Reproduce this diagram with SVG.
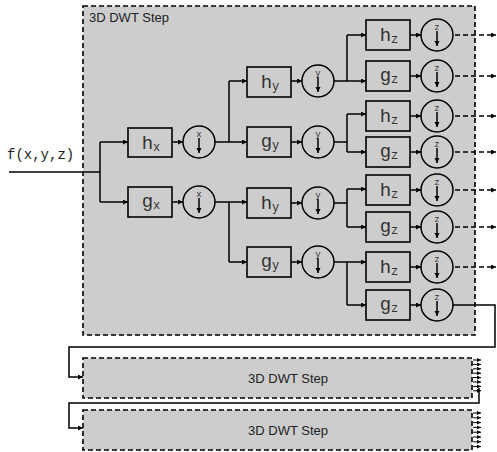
<svg xmlns="http://www.w3.org/2000/svg" width="497" height="452" viewBox="0 0 497 452">
<defs>
<marker id="ah" markerUnits="userSpaceOnUse" markerWidth="6" markerHeight="6" refX="5" refY="2.5" orient="auto">
<path d="M0,0 L5,2.5 L0,5 z" fill="#000"/>
</marker>
<marker id="as" markerUnits="userSpaceOnUse" markerWidth="5" markerHeight="4" refX="4" refY="2" orient="auto">
<path d="M0,0 L4,2 L0,4 z" fill="#000"/>
</marker>
<style>
.step{fill:#cdcdcd;stroke:#000;stroke-width:1.6;stroke-dasharray:5,3}
.box{fill:#cdcdcd;stroke:#000;stroke-width:1.6}
.circ{fill:#cdcdcd;stroke:#000;stroke-width:1.5}
.lbl{font-family:"Liberation Mono","DejaVu Sans Mono",monospace;font-size:19px;fill:#333;text-anchor:middle}
.sub{font-size:12px}
.cl{font-family:"Liberation Mono","DejaVu Sans Mono",monospace;font-size:9px;fill:#333;text-anchor:middle}
.ttl{font-family:"Liberation Sans",Arial,sans-serif;font-size:13px;fill:#222}
.ln{fill:none;stroke:#000;stroke-width:1.5}
.arr{fill:none;stroke:#000;stroke-width:1.5;marker-end:url(#ah)}
.dar{fill:none;stroke:#000;stroke-width:1.5;stroke-dasharray:5,3;marker-end:url(#ah)}
.sa{fill:none;stroke:#000;stroke-width:1;marker-end:url(#as)}
.inp{font-family:"Liberation Mono","DejaVu Sans Mono",monospace;font-size:14px;fill:#222}
</style>
</defs>

<g id="step1">
<rect class="step" x="83" y="6" width="392" height="329"/>
<text class="ttl" x="89" y="22">3D DWT Step</text>
</g>
<g id="step2">
<rect class="step" x="83" y="358" width="389" height="40"/>
<text class="ttl" x="288" y="383" text-anchor="middle">3D DWT Step</text>
</g>
<g id="step3">
<rect class="step" x="83" y="410" width="389" height="40"/>
<text class="ttl" x="288" y="435" text-anchor="middle">3D DWT Step</text>
</g>

<g id="input"><text class="inp" x="7" y="159">f(x,y,z)</text></g>

<g id="connectors">
<path class="ln" d="M9,172 H100 M100,142 V202"/>
<path class="arr" d="M100,142 H128"/>
<path class="arr" d="M100,202 H128"/>
<path class="arr" d="M172,142 H183"/>
<path class="arr" d="M172,202 H183"/>
<path class="ln" d="M215,142 H229 M229,81 V142 M215,202 H229 V262"/>
<path class="arr" d="M229,81 H247"/>
<path class="arr" d="M229,142 H247"/>
<path class="arr" d="M229,202 H247"/>
<path class="arr" d="M229,262 H247"/>
<path class="arr" d="M291,81 H302"/>
<path class="arr" d="M291,142 H302"/>
<path class="arr" d="M291,203 H302"/>
<path class="arr" d="M291,262 H302"/>
<path class="ln" d="M334,81 H347 M347,35 V81 M334,142 H347 M347,114 V152 M334,203 H347 M347,189 V227 M334,262 H347 V305"/>
<path class="arr" d="M347,35 H366"/>
<path class="arr" d="M347,81 H366"/>
<path class="arr" d="M347,114 H366"/>
<path class="arr" d="M347,152 H366"/>
<path class="arr" d="M347,189 H366"/>
<path class="arr" d="M347,227 H366"/>
<path class="arr" d="M347,262 H366"/>
<path class="arr" d="M347,305 H366"/>
<path class="arr" d="M410,35 H421"/>
<path class="arr" d="M410,76 H421"/>
<path class="arr" d="M410,116 H421"/>
<path class="arr" d="M410,152 H421"/>
<path class="arr" d="M410,190 H421"/>
<path class="arr" d="M410,227 H421"/>
<path class="arr" d="M410,267 H421"/>
<path class="arr" d="M410,305 H421"/>
<path class="dar" d="M455,35 H496"/>
<path class="dar" d="M455,76 H496"/>
<path class="dar" d="M455,116 H496"/>
<path class="dar" d="M455,152 H496"/>
<path class="dar" d="M455,190 H496"/>
<path class="dar" d="M455,227 H496"/>
<path class="dar" d="M455,267 H496"/>
<path class="arr" d="M453,305 H495 V347 H69 V377 H83"/>
<path class="arr" d="M479,388 V403 H69 V428 H83"/>
<path class="sa" d="M473,360 H481"/>
<path class="sa" d="M473,364.4 H481"/>
<path class="sa" d="M473,368.8 H481"/>
<path class="sa" d="M473,373.2 H481"/>
<path class="sa" d="M473,377.6 H481"/>
<path class="sa" d="M473,382 H481"/>
<path class="sa" d="M473,386.4 H481"/>
<path class="sa" d="M473,390.8 H481"/>
<path class="sa" d="M473,413 H481"/>
<path class="sa" d="M473,417.8 H481"/>
<path class="sa" d="M473,422.6 H481"/>
<path class="sa" d="M473,427.4 H481"/>
<path class="sa" d="M473,432.2 H481"/>
<path class="sa" d="M473,437 H481"/>
<path class="sa" d="M473,441.8 H481"/>
<path class="sa" d="M473,446.6 H481"/>
</g>

<g id="hx"><rect class="box" x="128" y="128" width="44" height="29"/><text class="lbl" x="151" y="149">h<tspan class="sub" dy="2">x</tspan></text></g>
<g id="gx"><rect class="box" x="128" y="187" width="44" height="30"/><text class="lbl" x="151" y="207">g<tspan class="sub" dy="2">x</tspan></text></g>
<g id="dx1"><circle class="circ" cx="199" cy="142" r="16"/><text class="cl" x="199" y="137">x</text><path class="arr" d="M199,138 V153"/></g>
<g id="dx2"><circle class="circ" cx="199" cy="202" r="16"/><text class="cl" x="199" y="197">x</text><path class="arr" d="M199,198 V213"/></g>

<g id="hy1"><rect class="box" x="247" y="67" width="44" height="30"/><text class="lbl" x="270" y="88">h<tspan class="sub" dy="2">y</tspan></text></g>
<g id="gy1"><rect class="box" x="247" y="127" width="44" height="30"/><text class="lbl" x="270" y="147">g<tspan class="sub" dy="2">y</tspan></text></g>
<g id="hy2"><rect class="box" x="247" y="188" width="44" height="30"/><text class="lbl" x="270" y="209">h<tspan class="sub" dy="2">y</tspan></text></g>
<g id="gy2"><rect class="box" x="247" y="247" width="44" height="30"/><text class="lbl" x="270" y="267">g<tspan class="sub" dy="2">y</tspan></text></g>
<g id="dy1"><circle class="circ" cx="318" cy="81" r="16"/><text class="cl" x="318" y="76">y</text><path class="arr" d="M318,77 V92"/></g>
<g id="dy2"><circle class="circ" cx="318" cy="142" r="16"/><text class="cl" x="318" y="137">y</text><path class="arr" d="M318,138 V153"/></g>
<g id="dy3"><circle class="circ" cx="318" cy="203" r="16"/><text class="cl" x="318" y="198">y</text><path class="arr" d="M318,199 V214"/></g>
<g id="dy4"><circle class="circ" cx="318" cy="262" r="16"/><text class="cl" x="318" y="257">y</text><path class="arr" d="M318,258 V273"/></g>

<g id="hz1"><rect class="box" x="366" y="20" width="44" height="30"/><text class="lbl" x="389" y="41">h<tspan class="sub" dy="2">z</tspan></text></g>
<g id="gz1"><rect class="box" x="366" y="61" width="44" height="30"/><text class="lbl" x="389" y="81">g<tspan class="sub" dy="2">z</tspan></text></g>
<g id="hz2"><rect class="box" x="366" y="101" width="44" height="30"/><text class="lbl" x="389" y="122">h<tspan class="sub" dy="2">z</tspan></text></g>
<g id="gz2"><rect class="box" x="366" y="137" width="44" height="30"/><text class="lbl" x="389" y="157">g<tspan class="sub" dy="2">z</tspan></text></g>
<g id="hz3"><rect class="box" x="366" y="175" width="44" height="30"/><text class="lbl" x="389" y="196">h<tspan class="sub" dy="2">z</tspan></text></g>
<g id="gz3"><rect class="box" x="366" y="212" width="44" height="30"/><text class="lbl" x="389" y="232">g<tspan class="sub" dy="2">z</tspan></text></g>
<g id="hz4"><rect class="box" x="366" y="252" width="44" height="30"/><text class="lbl" x="389" y="273">h<tspan class="sub" dy="2">z</tspan></text></g>
<g id="gz4"><rect class="box" x="366" y="290" width="44" height="30"/><text class="lbl" x="389" y="310">g<tspan class="sub" dy="2">z</tspan></text></g>
<g id="dz1"><circle class="circ" cx="437" cy="35" r="16"/><text class="cl" x="437" y="30">z</text><path class="arr" d="M437,31 V46"/></g>
<g id="dz2"><circle class="circ" cx="437" cy="76" r="16"/><text class="cl" x="437" y="71">z</text><path class="arr" d="M437,72 V87"/></g>
<g id="dz3"><circle class="circ" cx="437" cy="116" r="16"/><text class="cl" x="437" y="111">z</text><path class="arr" d="M437,112 V127"/></g>
<g id="dz4"><circle class="circ" cx="437" cy="152" r="16"/><text class="cl" x="437" y="147">z</text><path class="arr" d="M437,148 V163"/></g>
<g id="dz5"><circle class="circ" cx="437" cy="190" r="16"/><text class="cl" x="437" y="185">z</text><path class="arr" d="M437,186 V201"/></g>
<g id="dz6"><circle class="circ" cx="437" cy="227" r="16"/><text class="cl" x="437" y="222">z</text><path class="arr" d="M437,223 V238"/></g>
<g id="dz7"><circle class="circ" cx="437" cy="267" r="16"/><text class="cl" x="437" y="262">z</text><path class="arr" d="M437,263 V278"/></g>
<g id="dz8"><circle class="circ" cx="437" cy="305" r="16"/><text class="cl" x="437" y="300">z</text><path class="arr" d="M437,301 V316"/></g>
</svg>
